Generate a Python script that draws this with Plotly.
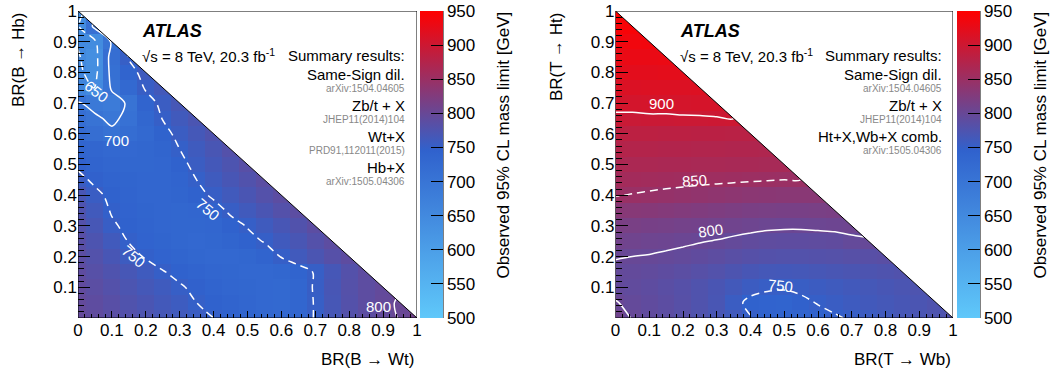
import numpy as np
import plotly.graph_objects as go

FONT = "Liberation Sans, Arial, sans-serif"

# Bin centres (branching ratio grid)
BR = [0.0, 0.05, 0.1, 0.15, 0.2, 0.25, 0.3, 0.35, 0.4, 0.45, 0.5,
      0.55, 0.6, 0.65, 0.7, 0.75, 0.8, 0.85, 0.9, 0.95, 1.0]

# ---- B quark: rows are BR(B->Hb) = 0, 0.05, ... ; columns BR(B->Wt) from 0 ----
B_00 = [796, 792, 786, 780, 775, 768, 762, 756, 750, 744, 738, 733, 730, 735, 752, 768, 780, 788, 795, 801, 810]
B_05 = [795, 790, 784, 777, 771, 764, 758, 750, 744, 739, 735, 731, 728, 735, 752, 768, 780, 789, 796, 802]
B_10 = [793, 787, 780, 773, 766, 760, 752, 746, 740, 736, 733, 730, 728, 736, 753, 769, 781, 789, 795]
B_15 = [790, 783, 776, 768, 760, 751, 745, 740, 736, 733, 731, 730, 732, 740, 752, 767, 780, 790]
B_20 = [787, 779, 769, 758, 748, 742, 737, 733, 731, 731, 733, 740, 751, 762, 772, 782, 790]
B_25 = [784, 774, 762, 749, 742, 737, 733, 731, 733, 738, 745, 751, 761, 770, 780, 789]
B_30 = [780, 768, 753, 745, 739, 735, 732, 732, 736, 744, 751, 760, 769, 778, 788]
B_35 = [776, 762, 748, 742, 737, 734, 733, 736, 743, 753, 762, 771, 780, 788]
B_40 = [770, 755, 745, 740, 736, 734, 737, 744, 753, 762, 771, 780, 788]
B_45 = [756, 746, 741, 737, 734, 734, 740, 750, 760, 769, 778, 787]
B_50 = [746, 740, 736, 733, 732, 735, 744, 756, 765, 774, 784]
B_55 = [738, 734, 731, 730, 732, 737, 750, 760, 770, 780]
B_60 = [722, 716, 706, 718, 728, 743, 756, 766, 776]
B_65 = [715, 705, 694, 708, 732, 751, 762, 772]
B_70 = [703, 690, 684, 705, 740, 756, 768]
B_75 = [662, 648, 705, 728, 753, 764]
B_80 = [655, 640, 712, 740, 760]
B_85 = [652, 638, 715, 752]
B_90 = [648, 645, 705]
B_95 = [645, 710]
B_100 = [630]
B_ROWS = [B_00, B_05, B_10, B_15, B_20, B_25, B_30, B_35, B_40, B_45, B_50,
          B_55, B_60, B_65, B_70, B_75, B_80, B_85, B_90, B_95, B_100]

# ---- T quark: rows are BR(T->Ht) = 0, 0.05, ... ; columns BR(T->Wb) from 0 ----
T_00 = [808, 799, 793, 788, 783, 777, 770, 762, 751, 743, 740, 741, 744, 748, 752, 757, 762, 767, 771, 775, 778]
T_05 = [801, 796, 792, 788, 783, 777, 770, 756, 745, 742, 741, 746, 751, 755, 759, 763, 766, 769, 772, 776]
T_10 = [795, 793, 790, 786, 782, 777, 771, 764, 757, 753, 752, 754, 757, 760, 763, 766, 769, 772, 775]
T_15 = [796, 795, 793, 790, 787, 783, 779, 774, 769, 766, 765, 766, 768, 770, 772, 774, 776, 778]
T_20 = [801, 800, 799, 797, 795, 792, 789, 785, 782, 780, 779, 779, 780, 781, 783, 784, 786]
T_25 = [810, 808, 806, 805, 803, 801, 799, 796, 793, 791, 790, 790, 791, 792, 796, 798]
T_30 = [818, 817, 815, 814, 812, 811, 810, 808, 806, 804, 803, 803, 804, 805, 806]
T_35 = [832, 831, 830, 828, 826, 824, 822, 820, 818, 817, 816, 816, 817, 818]
T_40 = [851, 849, 847, 845, 843, 841, 839, 837, 835, 834, 833, 833, 833]
T_45 = [860, 859, 858, 857, 856, 855, 854, 853, 852, 851, 850, 850]
T_50 = [868, 867, 867, 866, 866, 865, 865, 864, 864, 863, 863]
T_55 = [876, 875, 875, 874, 874, 873, 873, 872, 872, 871]
T_60 = [885, 884, 884, 883, 883, 882, 882, 881, 881]
T_65 = [896, 896, 897, 897, 898, 898, 899, 900]
T_70 = [906, 906, 907, 907, 907, 908, 908]
T_75 = [914, 914, 915, 915, 915, 916]
T_80 = [921, 922, 922, 923, 923]
T_85 = [928, 929, 929, 930]
T_90 = [935, 936, 937]
T_95 = [942, 943]
T_100 = [950]
T_ROWS = [T_00, T_05, T_10, T_15, T_20, T_25, T_30, T_35, T_40, T_45, T_50,
          T_55, T_60, T_65, T_70, T_75, T_80, T_85, T_90, T_95, T_100]

# contour levels: (level, dashed?)
B_LEVELS = [(650, True), (700, False), (750, True), (800, False)]
T_LEVELS = [(750, True), (800, False), (850, True), (900, False)]

# contour labels: (text, BR_x, BR_y, angle)
B_LABELS = [("650", 0.055, 0.738, 38), ("700", 0.115, 0.577, 0),
            ("750", 0.383, 0.352, 40), ("750", 0.165, 0.200, 40),
            ("800", 0.885, 0.036, 0)]
T_LABELS = [("900", 0.136, 0.698, 0), ("850", 0.233, 0.449, -4),
            ("800", 0.282, 0.285, -8), ("750", 0.489, 0.106, 6)]

X_TICKS = [0, 0.1, 0.2, 0.3, 0.4, 0.5, 0.6, 0.7, 0.8, 0.9, 1]
X_TEXT = ["0", "0.1", "0.2", "0.3", "0.4", "0.5", "0.6", "0.7", "0.8", "0.9", "1"]
Y_TICKS = [0.1, 0.2, 0.3, 0.4, 0.5, 0.6, 0.7, 0.8, 0.9, 1]
Y_TEXT = ["0.1", "0.2", "0.3", "0.4", "0.5", "0.6", "0.7", "0.8", "0.9", "1"]

B_INFO = ["Same-Sign dil.", "arXiv:1504.04605", "Zb/t + X", "JHEP11(2014)104",
          "Wt+X", "PRD91,112011(2015)", "Hb+X", "arXiv:1505.04306"]
T_INFO = ["Same-Sign dil.", "arXiv:1504.04605", "Zb/t + X", "JHEP11(2014)104",
          "Ht+X,Wb+X comb.", "arXiv:1505.04306"]

CBAR_TITLE = "Observed 95% CL mass limit [GeV]"
ZMIN, ZMAX = 500, 950
COLORSCALE = [[0.0, "rgb(95,200,250)"], [0.544, "rgb(48,98,205)"], [1.0, "rgb(255,0,0)"]]


def to_matrix(rows):
    n = len(BR)
    z = np.full((n, n), np.nan)
    for i, row in enumerate(rows):
        z[i, :len(row)] = row
    return z


W, H = 1050, 374
def px(x):
    return x / W
def py(y):
    return 1 - y / H

PLOT_TOP, PLOT_BOT = 11, 318
PANELS = [
    dict(rows=B_ROWS, levels=B_LEVELS, labels=B_LABELS, x0=78, x1=417, cb=420, title_x=503,
         xt="BR(B \u2192 Wt)", yt="BR(B \u2192 Hb)", yt_x=18, info=B_INFO, ax=""),
    dict(rows=T_ROWS, levels=T_LEVELS, labels=T_LABELS, x0=615.5, x1=953, cb=957, title_x=1040,
         xt="BR(T \u2192 Wb)", yt="BR(T \u2192 Ht)", yt_x=556, info=T_INFO, ax="2"),
]

fig = go.Figure()
shapes = []
annotations = []
layout = {}

for p in PANELS:
    z = to_matrix(p["rows"])
    xa, ya = "x" + p["ax"], "y" + p["ax"]
    fig.add_trace(go.Heatmap(
        x=BR, y=BR, z=z, zmin=ZMIN, zmax=ZMAX, colorscale=COLORSCALE,
        xaxis=xa, yaxis=ya, hoverinfo="skip",
        colorbar=dict(
            x=px(p["cb"]), xanchor="left", xpad=0,
            y=py(PLOT_TOP), yanchor="top", ypad=0,
            len=PLOT_BOT - PLOT_TOP, lenmode="pixels",
            thickness=23, thicknessmode="pixels", outlinewidth=0,
            ticks="inside", ticklen=12, tickwidth=1, tickcolor="black",
            tick0=500, dtick=50,
            tickfont=dict(family=FONT, size=17, color="black"),
        ),
    ))
    for lvl, dashed in p["levels"]:
        fig.add_trace(go.Contour(
            x=BR, y=BR, z=z, xaxis=xa, yaxis=ya, hoverinfo="skip",
            autocontour=False,
            contours=dict(start=lvl, end=lvl + 0.5, size=100, coloring="lines",
                          showlabels=False),
            line=dict(width=1.5, dash="8px,5px" if dashed else "solid"),
            colorscale=[[0, "white"], [1, "white"]], showscale=False,
        ))
    for txt, lx, ly, ang in p["labels"]:
        annotations.append(dict(text=txt, x=lx, y=ly, xref=xa, yref=ya,
                                xanchor="center", yanchor="middle", textangle=ang,
                                showarrow=False,
                                font=dict(family=FONT, size=15, color="white")))
    dom = [px(p["x0"]), px(p["x1"])]
    key = p["ax"]
    layout["xaxis" + key] = dict(
        domain=dom, range=[0, 1], anchor=ya, showgrid=False, zeroline=False,
        showline=False, ticks="inside", ticklen=7, tickwidth=1, tickcolor="black",
        tickvals=X_TICKS, ticktext=X_TEXT,
        tickfont=dict(family=FONT, size=17, color="black"),
        minor=dict(ticks="inside", ticklen=4, tickwidth=1, tickcolor="black",
                   tick0=0, dtick=0.02, showgrid=False),
    )
    layout["yaxis" + key] = dict(
        domain=[py(PLOT_BOT), py(PLOT_TOP)], range=[0, 1], anchor=xa,
        showgrid=False, zeroline=False, showline=False,
        ticks="inside", ticklen=12, tickwidth=1, tickcolor="black",
        tickvals=Y_TICKS, ticktext=Y_TEXT,
        tickfont=dict(family=FONT, size=17, color="black"),
        minor=dict(ticks="inside", ticklen=6, tickwidth=1, tickcolor="black",
                   tick0=0, dtick=0.02, showgrid=False),
    )
    # white mask above the diagonal, diagonal line, frame
    shapes.append(dict(type="path", xref=xa, yref=ya, path="M 0 1 L 1.02 1.02 L 1 0 Z",
                       fillcolor="white", line=dict(width=0), layer="above"))
    shapes.append(dict(type="line", xref=xa, yref=ya, x0=0, y0=1, x1=1, y1=0,
                       line=dict(color="black", width=1), layer="above"))
    shapes.append(dict(type="rect", xref=xa, yref=ya, x0=0, y0=0, x1=1, y1=1,
                       line=dict(color="black", width=1), fillcolor="rgba(0,0,0,0)",
                       layer="above"))
    # colour-bar axis line
    cbx = px(p["cb"] + 23)
    shapes.append(dict(type="line", xref="paper", yref="paper", x0=cbx, x1=cbx,
                       y0=py(PLOT_BOT), y1=py(PLOT_TOP),
                       line=dict(color="black", width=1), layer="above"))
    # colour-bar title
    annotations.append(dict(text=CBAR_TITLE, x=px(p["title_x"]), y=py(10), xref="paper",
                            yref="paper", xanchor="center", yanchor="top", textangle=-90,
                            showarrow=False, font=dict(family=FONT, size=17, color="black")))

    off = p["x0"] - 78
    # ATLAS label
    annotations.append(dict(text="<b><i>ATLAS</i></b>", x=px(140 + off), y=py(31),
                            xref="paper", yref="paper", xanchor="left", yanchor="middle",
                            showarrow=False, font=dict(family=FONT, size=18, color="black")))
    annotations.append(dict(text="\u221As = 8 TeV, 20.3 fb<sup>-1</sup>", x=px(140 + off), y=py(55),
                            xref="paper", yref="paper", xanchor="left", yanchor="middle",
                            showarrow=False, font=dict(family=FONT, size=15, color="black")))
    rx = px(406.5 + off)
    annotations.append(dict(text="Summary results:", x=rx, y=py(55), xref="paper", yref="paper",
                            xanchor="right", yanchor="middle", showarrow=False,
                            font=dict(family=FONT, size=15, color="black")))
    ypos = 74
    for j, t in enumerate(p["info"]):
        big = (j % 2 == 0)
        annotations.append(dict(text=t, x=rx, y=py(ypos), xref="paper", yref="paper",
                                xanchor="right", yanchor="middle", showarrow=False,
                                font=dict(family=FONT, size=15 if big else 10,
                                          color="black" if big else "#888888")))
        ypos += 14.5 if big else 16.5
    # axis titles
    annotations.append(dict(text=p["xt"], x=px(p["x1"]), y=py(359), xref="paper", yref="paper",
                            xanchor="right", yanchor="middle", showarrow=False,
                            font=dict(family=FONT, size=17, color="black")))
    annotations.append(dict(text=p["yt"], x=px(p["yt_x"]), y=py(PLOT_TOP), xref="paper",
                            yref="paper", xanchor="center", yanchor="top", textangle=-90,
                            showarrow=False, font=dict(family=FONT, size=17, color="black")))

fig.update_layout(
    width=W, height=H, margin=dict(l=0, r=0, t=0, b=0, autoexpand=False),
    paper_bgcolor="white", plot_bgcolor="white",
    showlegend=False, shapes=shapes, annotations=annotations,
    font=dict(family=FONT, color="black"),
    **layout,
)

fig.write_html("out.html")
